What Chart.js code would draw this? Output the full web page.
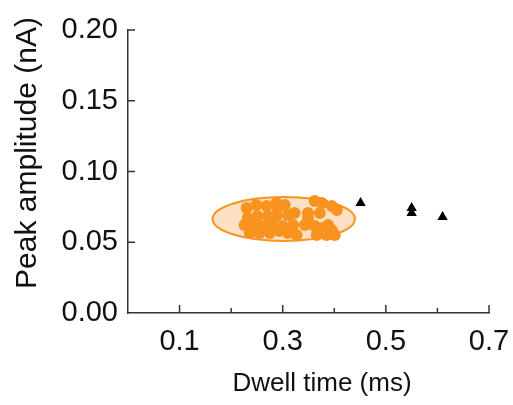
<!DOCTYPE html>
<html>
<head>
<meta charset="utf-8">
<script src="https://cdn.jsdelivr.net/npm/chart.js@4.4.1/dist/chart.umd.min.js"></script>
<style>
html, body { margin: 0; padding: 0; background: #fff; }
</style>
</head>
<body>
<canvas id="myChart" width="513" height="405"></canvas>
<script>
// orange cluster (inside ellipse)
var dwellIn = [0.230, 0.249, 0.269, 0.288, 0.290, 0.232, 0.251, 0.271, 0.288, 0.226,
               0.242, 0.261, 0.279, 0.300, 0.310, 0.236, 0.255, 0.275, 0.294, 0.310,
               0.362, 0.376, 0.395, 0.405, 0.349, 0.372, 0.349, 0.362, 0.376, 0.388,
               0.395, 0.366, 0.385, 0.401, 0.323, 0.320, 0.327, 0.304, 0.343];
var peakIn = [0.0742, 0.0763, 0.0756, 0.0777, 0.0742, 0.0671, 0.0686, 0.0686, 0.0686, 0.0622,
              0.0615, 0.0615, 0.0622, 0.0615, 0.0693, 0.0565, 0.0565, 0.0565, 0.0580, 0.0565,
              0.0792, 0.0777, 0.0756, 0.0728, 0.0707, 0.0707, 0.0671, 0.0615, 0.0601, 0.0622,
              0.0587, 0.0551, 0.0551, 0.0551, 0.0707, 0.0622, 0.0551, 0.0763, 0.0622];
// black triangles
var dwellOut = [0.451, 0.550, 0.550, 0.610];
var peakOut = [0.0777, 0.0742, 0.0707, 0.0678];
// ellipse (centre and radii, data units)
var ellipseCenter = [0.302, 0.0664];
var ellipseRadius = [0.138, 0.0155];
// tick labels
var xLabels = ['0.1', '0.3', '0.5', '0.7'];
var yLabels = ['0.00', '0.05', '0.10', '0.15', '0.20'];

var FONT = "'Liberation Sans', Arial, Helvetica, sans-serif";

function toPoints(xs, ys) {
    return xs.map(function (x, i) { return { x: x, y: ys[i] }; });
}

var ellipsePlugin = {
    id: 'ellipse',
    beforeDatasetsDraw: function (chart) {
        var sx = chart.scales.x, sy = chart.scales.y, c = chart.ctx;
        var cx = sx.getPixelForValue(ellipseCenter[0]);
        var cy = sy.getPixelForValue(ellipseCenter[1]);
        var rx = sx.getPixelForValue(ellipseCenter[0] + ellipseRadius[0]) - cx;
        var ry = cy - sy.getPixelForValue(ellipseCenter[1] + ellipseRadius[1]);
        c.save();
        c.beginPath();
        c.ellipse(cx, cy, rx, ry, 0, 0, Math.PI * 2);
        c.fillStyle = '#fde1c6';
        c.fill();
        c.lineWidth = 2;
        c.strokeStyle = '#f7931e';
        c.stroke();
        c.restore();
    }
};

// inward tick marks + axis titles
var axisPlugin = {
    id: 'axisExtras',
    afterDraw: function (chart) {
        var sx = chart.scales.x, sy = chart.scales.y, c = chart.ctx;
        var a = chart.chartArea;
        c.save();
        c.strokeStyle = '#333';
        c.lineWidth = 1.5;
        sx.ticks.forEach(function (t) {
            if (t.value <= 0) return;
            var px = sx.getPixelForValue(t.value);
            var len = t.label ? 8 : 5;
            c.beginPath();
            c.moveTo(px, a.bottom);
            c.lineTo(px, a.bottom - len);
            c.stroke();
        });
        sy.ticks.forEach(function (t) {
            if (t.value <= 0) return;
            var py = sy.getPixelForValue(t.value);
            c.beginPath();
            c.moveTo(a.left, py);
            c.lineTo(a.left + 7, py);
            c.stroke();
        });
        c.fillStyle = '#111';
        c.textAlign = 'center';
        c.textBaseline = 'middle';
        c.font = '26px ' + FONT;
        c.fillText('Dwell time (ms)', 322, 384);
        c.translate(28, 153);
        c.rotate(-Math.PI / 2);
        c.font = '30px ' + FONT;
        c.fillText('Peak amplitude (nA)', 0, 0);
        c.restore();
    }
};

var ctx = document.getElementById('myChart').getContext('2d');
var myChart = new Chart(ctx, {
    type: 'scatter',
    data: {
        datasets: [{
            label: 'Inside',
            data: toPoints(dwellIn, peakIn),
            backgroundColor: '#f7931e',
            borderColor: '#f7931e',
            pointRadius: 6,
            pointBorderWidth: 0
        }, {
            label: 'Outside',
            data: toPoints(dwellOut, peakOut),
            pointStyle: 'triangle',
            backgroundColor: '#000',
            borderColor: '#000',
            pointRadius: 6,
            pointBorderWidth: 0
        }]
    },
    options: {
        responsive: false,
        animation: false,
        layout: { padding: { top: 30, right: 24, left: 0, bottom: 0 } },
        plugins: {
            legend: { display: false },
            tooltip: { enabled: false }
        },
        scales: {
            x: {
                type: 'linear',
                min: 0,
                max: 0.7,
                afterFit: function (s) { s.height = 92; s.paddingLeft = 0; s.paddingRight = 0; },
                afterBuildTicks: function (s) {
                    s.ticks = [0, 0.1, 0.2, 0.3, 0.4, 0.5, 0.6, 0.7].map(function (v) { return { value: v }; });
                },
                grid: { display: false, drawTicks: false },
                border: { display: true, color: '#333', width: 1.5 },
                ticks: {
                    autoSkip: false,
                    maxRotation: 0,
                    padding: 12,
                    color: '#111',
                    font: { family: FONT, size: 29 },
                    callback: function (v) {
                        var i = Math.round(v * 10);
                        return (i % 2 === 1) ? xLabels[(i - 1) / 2] : '';
                    }
                }
            },
            y: {
                type: 'linear',
                min: 0,
                max: 0.2,
                afterFit: function (s) { s.width = 128; s.paddingTop = 0; s.paddingBottom = 0; },
                afterBuildTicks: function (s) {
                    s.ticks = [0, 0.05, 0.1, 0.15, 0.2].map(function (v) { return { value: v }; });
                },
                grid: { display: false, drawTicks: false },
                border: { display: true, color: '#333', width: 1.5 },
                ticks: {
                    autoSkip: false,
                    padding: 10,
                    color: '#111',
                    font: { family: FONT, size: 29 },
                    callback: function (v) { return yLabels[Math.round(v * 20)]; }
                }
            }
        }
    },
    plugins: [ellipsePlugin, axisPlugin]
});
</script>
</body>
</html>
